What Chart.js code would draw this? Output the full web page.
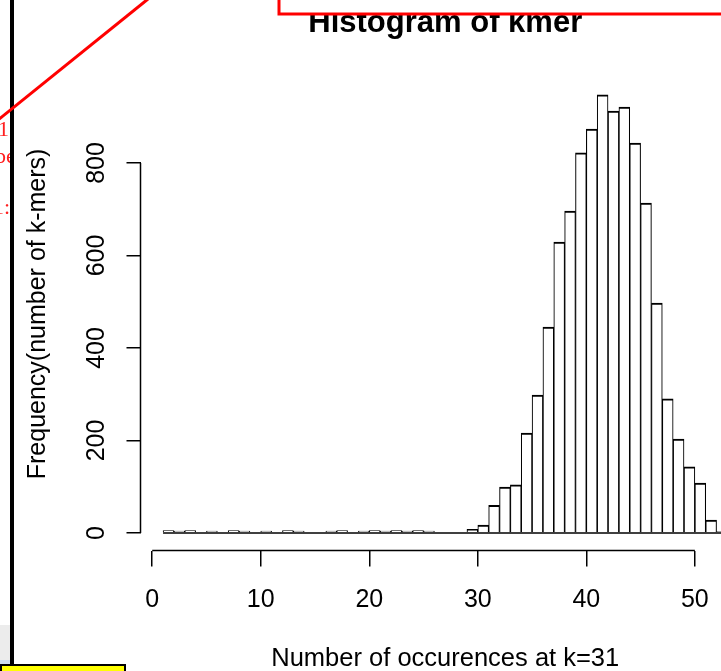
<!DOCTYPE html>
<html>
<head>
<meta charset="utf-8">
<script src="https://cdn.jsdelivr.net/npm/chart.js@4"></script>
<style>
  html, body { margin: 0; padding: 0; background: #fff; overflow: hidden; }
  #wrap { position: relative; width: 750px; height: 700px; }
</style>
</head>
<body>
<div id="wrap"><canvas id="hist"></canvas></div>
<script>
// histogram bins (lower edge, width 1) and counts
const binStarts = [1, 2, 3, 4, 5, 6, 7, 8, 9, 10, 11, 12, 13, 14, 15, 16, 17, 18, 19, 20,
  21, 22, 23, 24, 25, 26, 27, 28, 29, 30, 31, 32, 33, 34, 35, 36, 37, 38, 39, 40,
  41, 42, 43, 44, 45, 46, 47, 48, 49, 50, 51, 52];
const counts = [5, 4, 5, 0, 4, 0, 5, 4, 0, 4, 0, 5, 4, 0, 0, 4, 5, 0, 4, 5,
  4, 5, 4, 5, 4, 0, 0, 0, 8, 17, 60, 99, 104, 216, 298, 445, 629, 696, 822, 873,
  947, 912, 921, 843, 713, 497, 290, 203, 143, 108, 28, 3];
const binWidth = 1;

const xTicks = [0, 10, 20, 30, 40, 50];
const yTicks = [0, 200, 400, 600, 800];

const mainTitle = 'Histogram of kmer';
const xTitle = 'Number of occurences at k=31';
const yTitle = 'Frequency(number of k-mers)';

Chart.defaults.font.family = "'Liberation Sans', Arial, sans-serif";
Chart.defaults.color = '#000';

// R style axis lines (only between first and last tick) + the screenshot marks around the plot
const extras = {
  id: 'extras',
  afterDraw(chart) {
    const ctx = chart.ctx;
    const xs = chart.scales.x, ys = chart.scales.y;
    const area = chart.chartArea;
    ctx.save();
    ctx.strokeStyle = '#000';
    ctx.lineWidth = 1.5;
    ctx.beginPath();
    ctx.moveTo(xs.getPixelForValue(xTicks[0]), area.bottom);
    ctx.lineTo(xs.getPixelForValue(xTicks[xTicks.length - 1]), area.bottom);
    ctx.moveTo(area.left, ys.getPixelForValue(yTicks[0]));
    ctx.lineTo(area.left, ys.getPixelForValue(yTicks[yTicks.length - 1]));
    ctx.stroke();

    // red box over the title
    ctx.fillStyle = '#fff';
    ctx.fillRect(279, -10, 500, 24);
    ctx.strokeStyle = '#ff0000';
    ctx.lineWidth = 3;
    ctx.strokeRect(279, -10, 500, 24);

    // grey strip bottom left
    ctx.fillStyle = '#ececec';
    ctx.fillRect(0, 625, 11, 36);
    ctx.fillStyle = '#cddcec';
    ctx.fillRect(0, 660, 11, 4);

    // cut off red text at the left edge
    ctx.save();
    ctx.beginPath();
    ctx.rect(0, 0, 11, 671);
    ctx.clip();
    ctx.fillStyle = '#ff2020';
    ctx.font = "22px 'Liberation Serif', serif";
    ctx.fillText('1', -2, 136);
    ctx.fillText('be', -5, 163);
    ctx.fillText('1:', -7, 214);
    ctx.restore();

    // black vertical line
    ctx.fillStyle = '#000';
    ctx.fillRect(10, 0, 4, 664);

    // red diagonal line
    ctx.strokeStyle = '#ff0000';
    ctx.lineWidth = 3;
    ctx.beginPath();
    ctx.moveTo(-2, 120);
    ctx.lineTo(148, -1);
    ctx.stroke();

    // yellow box
    ctx.fillStyle = '#ffff00';
    ctx.fillRect(0, 665, 125, 20);
    ctx.strokeStyle = '#000';
    ctx.lineWidth = 2;
    ctx.strokeRect(1, 665, 124, 20);
    ctx.restore();
  }
};

new Chart(document.getElementById('hist'), {
  type: 'bar',
  data: {
    datasets: [
      {
        type: 'line',
        data: [
          { x: binStarts[0], y: 0 },
          { x: binStarts[binStarts.length - 1] + binWidth, y: 0 }
        ],
        borderColor: '#000',
        borderWidth: 1.5,
        pointRadius: 0,
        order: 0
      },
      {
        type: 'bar',
        data: counts.map((c, i) => ({ x: binStarts[i] + binWidth / 2, y: c })),
        backgroundColor: '#fff',
        borderColor: '#000',
        borderWidth: { top: 2, left: 1.1, right: 1.1, bottom: 0 },
        barPercentage: 1,
        categoryPercentage: 1,
        order: 1
      }
    ]
  },
  options: {
    responsive: true,
    maintainAspectRatio: false,
    animation: false,
    layout: { padding: 0 },
    plugins: {
      legend: { display: false },
      tooltip: { enabled: false },
      title: {
        display: true,
        text: mainTitle,
        fullSize: false,
        color: '#000',
        font: { size: 31, weight: 'bold' },
        padding: { top: 4.7, bottom: 35.5 }
      }
    },
    scales: {
      x: {
        type: 'linear',
        min: -1.08,
        max: 55.08,
        offset: false,
        afterBuildTicks: s => { s.ticks = xTicks.map(v => ({ value: v })); },
        afterFit: s => { s.height = 149.5; },
        grid: { offset: false, drawOnChartArea: false, drawTicks: true, tickLength: 16, color: '#000', lineWidth: 1.5 },
        border: { display: false },
        ticks: { font: { size: 25 }, padding: 18.8, maxRotation: 0, autoSkip: false, color: '#000' },
        title: { display: true, text: xTitle, font: { size: 25.5 }, color: '#000', padding: { top: 0, bottom: 25.5 } }
      },
      y: {
        type: 'linear',
        min: -37.9,
        max: 984.9,
        afterBuildTicks: s => { s.ticks = yTicks.map(v => ({ value: v })); },
        afterFit: s => { s.width = 140.5; },
        grid: { drawOnChartArea: false, drawTicks: true, tickLength: 14, color: '#000', lineWidth: 1.5 },
        border: { display: false },
        ticks: { font: { size: 25 }, padding: 8.4, minRotation: 90, maxRotation: 90, crossAlign: 'center', color: '#000' },
        title: { display: true, text: yTitle, font: { size: 25 }, color: '#000', padding: { top: 22.8, bottom: 0 } }
      }
    }
  },
  plugins: [extras]
});
</script>
</body>
</html>
